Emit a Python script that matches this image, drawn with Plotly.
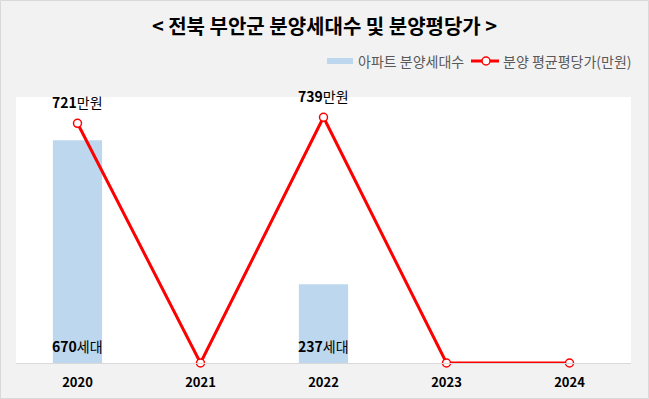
import plotly.graph_objects as go

years = ["2020", "2021", "2022", "2023", "2024"]
units = [670, 0, 237, 0, 0]
prices = [721, 0, 739, 0, 0]
bar_name = "아파트 분양세대수"
line_name = "분양 평균평당가(만원)"
title = "< 전북 부안군 분양세대수 및 분양평당가 >"

FONT = "Noto Sans CJK KR"
W, H = 649, 399
L, R, T, B = 16, 18, 97, 36
pw = W - L - R
ph = H - T - B
BAR_COLOR = "#bdd7ee"
LINE_COLOR = "#ff0000"


def px(x):
    return (x - L) / pw


def py(y):
    return (H - B - y) / ph


fig = go.Figure()
fig.add_trace(go.Bar(
    x=years, y=units, name=bar_name,
    marker=dict(color=BAR_COLOR, line=dict(width=0)),
    width=0.4, showlegend=False,
))
fig.add_trace(go.Scatter(
    x=years, y=prices, name=line_name, mode="lines+markers",
    line=dict(color=LINE_COLOR, width=3),
    marker=dict(symbol="circle", size=8, color="white", line=dict(color=LINE_COLOR, width=1.5)),
    yaxis="y2", cliponaxis=False, showlegend=False,
))
for i, pv in enumerate(prices):
    if pv:
        fig.add_annotation(x=i, y=pv, xref="x", yref="y2", text=f"<b>{pv}</b>만원",
                           showarrow=False, yshift=21,
                           font=dict(family=FONT, size=14, color="black"))
for i, u in enumerate(units):
    if u:
        fig.add_annotation(x=i, y=0, xref="x", yref="y", text=f"<b>{u}</b>세대",
                           showarrow=False, yanchor="bottom", yshift=5,
                           font=dict(family=FONT, size=14, color="black"))

# outer border
fig.add_shape(type="rect", xref="paper", yref="paper",
              x0=px(0.5), x1=px(648.5), y0=py(398.5), y1=py(0.5),
              line=dict(color="#d9d9d9", width=1), layer="below")

# manual legend
ly = py(61)
fig.add_shape(type="rect", xref="paper", yref="paper",
              x0=px(327), x1=px(353), y0=py(64), y1=py(58),
              fillcolor=BAR_COLOR, line=dict(width=0))
fig.add_annotation(xref="paper", yref="paper", x=px(356), y=ly, xanchor="left", yanchor="middle",
                   text=bar_name, showarrow=False,
                   font=dict(family=FONT, size=14, color="#595959"))
fig.add_shape(type="line", xref="paper", yref="paper",
              x0=px(471), x1=px(499), y0=ly, y1=ly,
              line=dict(color=LINE_COLOR, width=3))
fig.add_shape(type="circle", xref="paper", yref="paper",
              x0=px(482), x1=px(490), y0=py(65), y1=py(57),
              fillcolor="white", line=dict(color=LINE_COLOR, width=1.5))
fig.add_annotation(xref="paper", yref="paper", x=px(501), y=ly, xanchor="left", yanchor="middle",
                   text=line_name, showarrow=False,
                   font=dict(family=FONT, size=14, color="#595959"))

fig.update_layout(
    width=W, height=H,
    margin=dict(l=L, r=R, t=T, b=B, autoexpand=False),
    paper_bgcolor="#f2f2f2", plot_bgcolor="white",
    font=dict(family=FONT, color="black"),
    title=dict(text=f"<b>{title}</b>", x=0.5, xanchor="center", y=1 - 27 / H, yanchor="middle",
               font=dict(family=FONT, size=20, color="black")),
    showlegend=False,
    xaxis=dict(type="category", range=[-0.5, 4.5], showgrid=False, showline=True,
               linecolor="#d9d9d9", linewidth=1, automargin=False,
               ticks="", ticklabelstandoff=7, tickfont=dict(family=FONT, size=13, color="black"),
               tickprefix="<b>", ticksuffix="</b>"),
    yaxis=dict(range=[0, 800], visible=False, showgrid=False, automargin=False),
    yaxis2=dict(range=[0, 800], visible=False, showgrid=False, overlaying="y", automargin=False),
)
fig.write_html("out.html", config={"displayModeBar": False},
               post_script="document.body.style.margin='0';")
